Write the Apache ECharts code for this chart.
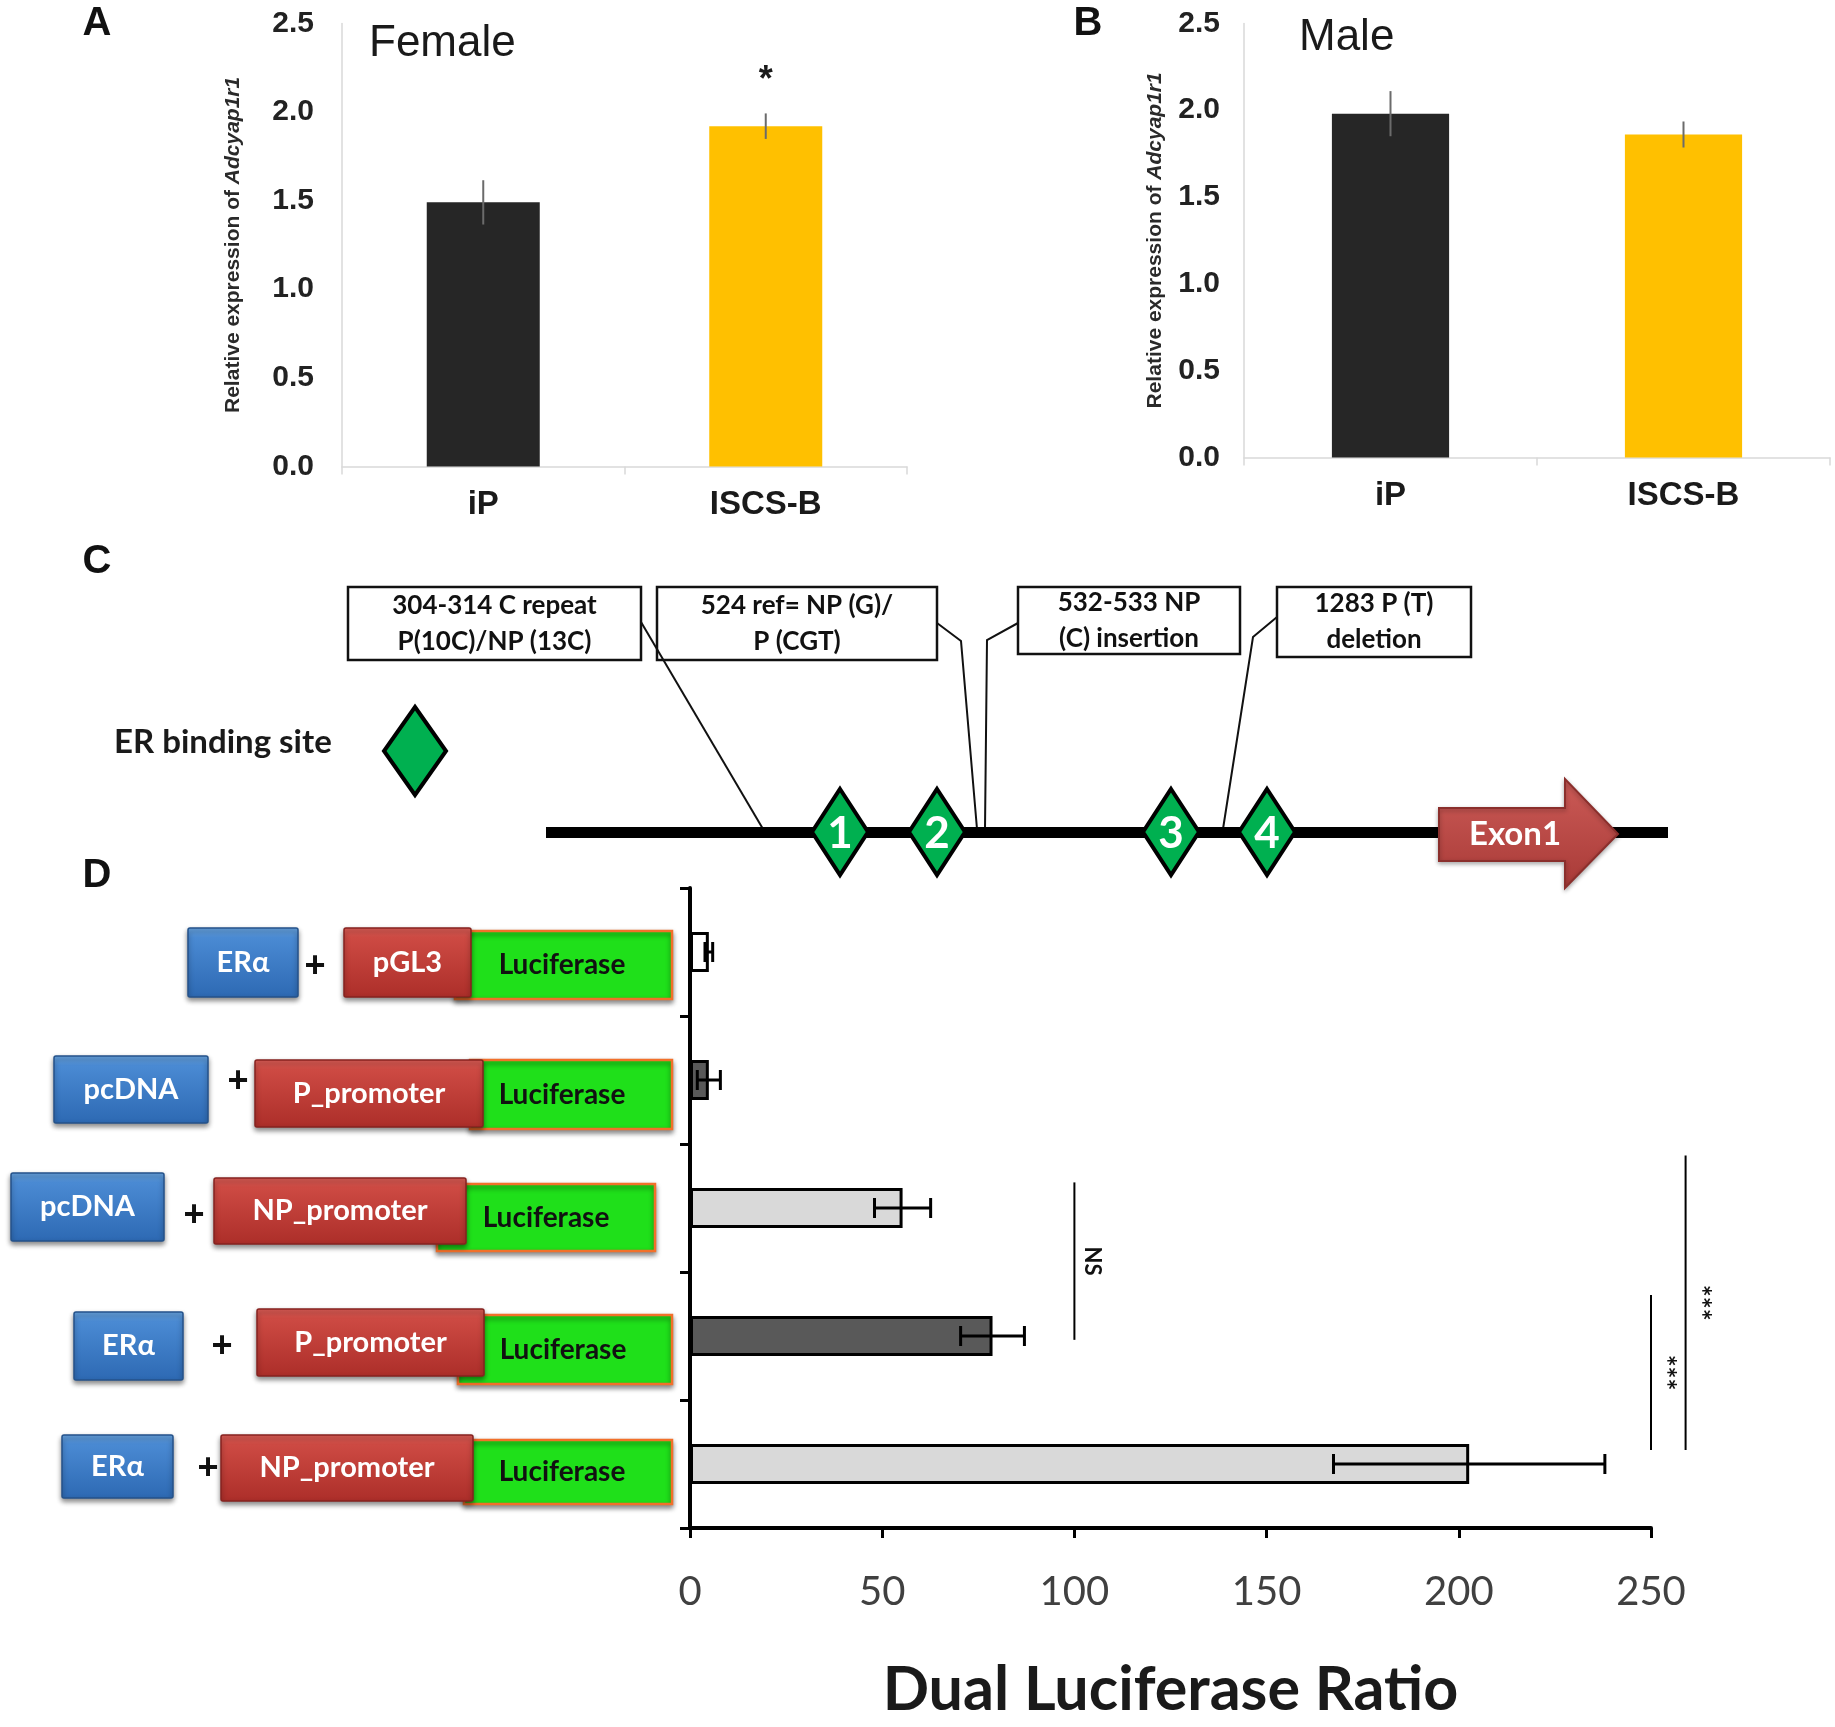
<!DOCTYPE html>
<html><head><meta charset="utf-8">
<script src="https://cdn.jsdelivr.net/npm/echarts@6/dist/echarts.min.js"></script>
<style>html,body{margin:0;padding:0;background:#fff}#c{width:1835px;height:1727px}</style>
</head><body><div id="c"></div>
<script>
// ---------- DATA ----------
const groupsAB = ['iP', 'ISCS-B'];
const femaleMean = [1.49, 1.92];
const femaleErr = [0.125, 0.072];
const femaleSig = ['', '*'];
const maleMean = [1.98, 1.86];
const maleErr = [0.13, 0.075];
const maleSig = ['', ''];
const abAxis = {min: 0, max: 2.5, interval: 0.5};

const constructs = ['ERα + pGL3', 'pcDNA + P_promoter', 'pcDNA + NP_promoter', 'ERα + P_promoter', 'ERα + NP_promoter'];
const ratioMean = [4.9, 4.9, 55.3, 78.7, 202.7];
const ratioErr = [1.0, 3.0, 7.3, 8.3, 35.3];
const ratioAxis = {min: 0, max: 250, interval: 50};
// significance brackets: x value, from/to in category-index units
const brackets = [
  {x: 100, from: 1.8, to: 3.03, label: 'NS'},
  {x: 250, from: 2.68, to: 3.89, label: '***'},
  {x: 259, from: 1.59, to: 3.89, label: '***'}
];
const rowParts = [['ERα', 'pGL3'], ['pcDNA', 'P_promoter'], ['pcDNA', 'NP_promoter'], ['ERα', 'P_promoter'], ['ERα', 'NP_promoter']];

// ---------- STYLES ----------
const abColors = ['#262626', '#ffc000'];
const dFills = ['#ffffff', '#595959', '#d9d9d9', '#595959', '#d9d9d9'];
const SANS = 'Liberation Sans';
const CAL = 'Lato';

const chart = echarts.init(document.getElementById('c'), null, {renderer: 'canvas'});

function vErr(sig) {
  return function (params, api) {
    const i = api.value(0), m = api.value(1), e = api.value(2);
    const top = api.coord([i, m + e]);
    const bot = api.coord([i, m - e]);
    const ch = [{type: 'line', shape: {x1: top[0], y1: top[1], x2: bot[0], y2: bot[1]}, style: {stroke: '#6b6b6b', lineWidth: 2}}];
    const s = sig[params.dataIndex];
    if (s) ch.push({type: 'text', x: top[0], y: top[1] - 32, style: {text: s, font: 'bold 36px ' + SANS, fill: '#1a1a1a', align: 'center', verticalAlign: 'middle', textAlign: 'center', textVerticalAlign: 'middle'}});
    return {type: 'group', children: ch};
  };
}

function abGrid(left, top, width, height) {
  return {left, top, width, height, containLabel: false, outerBoundsMode: 'none'};
}
function abX(gi, margin) {
  return {type: 'category', gridIndex: gi, data: groupsAB,
    axisLine: {lineStyle: {color: '#d9d9d9', width: 1.5}},
    axisTick: {show: true, length: 8, lineStyle: {color: '#d9d9d9', width: 1.5}},
    axisLabel: {fontFamily: SANS, fontWeight: 'bold', fontSize: 33, color: '#1a1a1a', margin: margin}};
}
function abY(gi, margin, gap) {
  return {type: 'value', gridIndex: gi, min: abAxis.min, max: abAxis.max, interval: abAxis.interval,
    splitLine: {show: false}, axisTick: {show: false},
    axisLine: {show: true, lineStyle: {color: '#d9d9d9', width: 1.5}},
    axisLabel: {fontFamily: SANS, fontWeight: 'bold', fontSize: 30, color: '#222', margin: margin, formatter: v => v.toFixed(1)},
    name: '{n|Relative expression of }{i|Adcyap1r1}', nameLocation: 'middle', nameRotate: 90, nameGap: gap,
    nameTextStyle: {rich: {n: {fontFamily: SANS, fontWeight: 'bold', fontSize: 21, color: '#2a2a2a'}, i: {fontFamily: SANS, fontWeight: 'bold', fontStyle: 'italic', fontSize: 21, color: '#2a2a2a'}}}};
}

// ---------- GRAPHICS (diagram panels) ----------
const G = [];
function txt(x, y, text, font, fill, align, extra) {
  G.push(Object.assign({type: 'text', x, y, z: 20, style: {text, font, fill: fill || '#111', align: align || 'center', verticalAlign: 'middle', textAlign: align || 'center', textVerticalAlign: 'middle'}}, extra || {}));
}
txt(97, 24, 'A', 'bold 40px ' + SANS, '#111');
txt(1088, 24, 'B', 'bold 40px ' + SANS, '#111');
txt(97, 562, 'C', 'bold 40px ' + SANS, '#111');
txt(97, 876, 'D', 'bold 40px ' + SANS, '#111');
txt(369, 44, 'Female', '44px ' + SANS, '#1a1a1a', 'left');
txt(1299, 38, 'Male', '44px ' + SANS, '#1a1a1a', 'left');

// Panel C
const calloutBoxes = [
  {x1: 348, x2: 641, y1: 587, y2: 660, t: '304-314 C repeat\nP(10C)/NP (13C)'},
  {x1: 657, x2: 937, y1: 587, y2: 660, t: '524 ref= NP (G)/\nP (CGT)'},
  {x1: 1018, x2: 1240, y1: 587, y2: 654, t: '532-533 NP\n(C) insertion'},
  {x1: 1277, x2: 1471, y1: 587, y2: 657, t: '1283 P (T)\ndeletion'}
];
calloutBoxes.forEach(b => {
  G.push({type: 'rect', z: 10, shape: {x: b.x1, y: b.y1, width: b.x2 - b.x1, height: b.y2 - b.y1}, style: {fill: '#fff', stroke: '#111', lineWidth: 2.5}});
  G.push({type: 'text', z: 11, x: (b.x1 + b.x2) / 2, y: (b.y1 + b.y2) / 2, style: {text: b.t, font: 'bold 26px ' + CAL, fill: '#111', lineHeight: 36, align: 'center', verticalAlign: 'middle', textAlign: 'center', textVerticalAlign: 'middle'}});
});
const callLines = [
  [[641, 622], [763, 829]],
  [[937, 623], [961, 641], [977, 829]],
  [[1018, 623], [987, 640], [985, 829]],
  [[1277, 617], [1253, 637], [1223, 829]]
];
callLines.forEach(p => G.push({type: 'polyline', z: 12, shape: {points: p}, style: {stroke: '#111', lineWidth: 2, fill: null}}));
G.push({type: 'rect', z: 13, shape: {x: 546, y: 827, width: 1122, height: 11}, style: {fill: '#000'}});
function diamond(cx, cy, w, h, label) {
  G.push({type: 'polygon', z: 14, shape: {points: [[cx, cy - h / 2], [cx + w / 2, cy], [cx, cy + h / 2], [cx - w / 2, cy]]}, style: {fill: '#00b050', stroke: '#000', lineWidth: 4}});
  if (label) G.push({type: 'text', z: 15, x: cx, y: cy + 2, style: {text: label, font: 'bold 44px ' + CAL, fill: '#fff', align: 'center', verticalAlign: 'middle', textAlign: 'center', textVerticalAlign: 'middle'}});
}
diamond(415, 751, 62, 88, '');
[[840, '1'], [937, '2'], [1171, '3'], [1267, '4']].forEach(d => diamond(d[0], 832, 56, 86, d[1]));
txt(114, 742, 'ER binding site', 'bold 33px ' + CAL, '#1a1a1a', 'left');
G.push({type: 'polygon', z: 16, shape: {points: [[1439, 808], [1565, 808], [1565, 779], [1618, 834], [1565, 888], [1565, 861], [1439, 861]]},
  style: {fill: {type: 'linear', x: 0, y: 0, x2: 0, y2: 1, colorStops: [{offset: 0, color: '#cc5b57'}, {offset: 1, color: '#a83a37'}]}, stroke: '#8b2f2c', lineWidth: 2, shadowBlur: 4, shadowOffsetY: 2, shadowColor: 'rgba(0,0,0,0.3)'}});
G.push({type: 'text', z: 17, x: 1515, y: 834, style: {text: 'Exon1', font: 'bold 33px ' + CAL, fill: '#fff', align: 'center', verticalAlign: 'middle', textAlign: 'center', textVerticalAlign: 'middle'}});

// Panel D constructs
const rowLayout = [
  {blue: [188, 298, 928, 997], plus: [315, 967], red: [344, 471, 928, 997], green: [455, 672, 931, 999], lucX: 562},
  {blue: [54, 208, 1056, 1123], plus: [238, 1082], red: [255, 483, 1060, 1127], green: [470, 672, 1060, 1129], lucX: 562},
  {blue: [11, 164, 1173, 1241], plus: [194, 1216], red: [214, 466, 1178, 1244], green: [437, 655, 1184, 1251], lucX: 546},
  {blue: [74, 183, 1312, 1380], plus: [222, 1347], red: [257, 484, 1309, 1376], green: [458, 672, 1315, 1384], lucX: 563},
  {blue: [62, 173, 1435, 1498], plus: [208, 1469], red: [221, 473, 1435, 1501], green: [464, 672, 1440, 1504], lucX: 562}
];
const blueFill = {type: 'linear', x: 0, y: 0, x2: 0, y2: 1, colorStops: [{offset: 0, color: '#6aa6e2'}, {offset: 0.15, color: '#4a8ad3'}, {offset: 1, color: '#2d69b3'}]};
const redFill = {type: 'linear', x: 0, y: 0, x2: 0, y2: 1, colorStops: [{offset: 0, color: '#de5f58'}, {offset: 0.15, color: '#cd4a43'}, {offset: 1, color: '#ac2e29'}]};
rowLayout.forEach((r, i) => {
  const g = r.green, b = r.blue, rd = r.red;
  G.push({type: 'rect', z: 5, shape: {x: g[0], y: g[2], width: g[1] - g[0], height: g[3] - g[2]}, style: {fill: '#1fe01a', stroke: '#f2702a', lineWidth: 2.5, shadowBlur: 5, shadowOffsetY: 3, shadowColor: 'rgba(0,0,0,0.45)'}});
  G.push({type: 'rect', z: 6, shape: {x: b[0], y: b[2], width: b[1] - b[0], height: b[3] - b[2], r: 2}, style: {fill: blueFill, stroke: '#24528a', lineWidth: 1.5, shadowBlur: 5, shadowOffsetY: 3, shadowColor: 'rgba(0,0,0,0.45)'}});
  G.push({type: 'rect', z: 6, shape: {x: rd[0], y: rd[2], width: rd[1] - rd[0], height: rd[3] - rd[2], r: 2}, style: {fill: redFill, stroke: '#86221f', lineWidth: 1.5, shadowBlur: 5, shadowOffsetY: 3, shadowColor: 'rgba(0,0,0,0.45)'}});
  txt((b[0] + b[1]) / 2, (b[2] + b[3]) / 2, rowParts[i][0], 'bold 29px ' + CAL, '#fff');
  txt((rd[0] + rd[1]) / 2, (rd[2] + rd[3]) / 2, rowParts[i][1], 'bold 29px ' + CAL, '#fff');
  txt(r.lucX, (g[2] + g[3]) / 2, 'Luciferase', 'bold 28px ' + CAL, '#111');
  txt(r.plus[0], r.plus[1], '+', 'bold 36px ' + SANS, '#111');
});

const option = {
  animation: false,
  backgroundColor: '#fff',
  grid: [
    abGrid(342, 23.4, 565, 443),
    abGrid(1244, 23.4, 586, 434),
    {left: 690, top: 888, width: 961, height: 640, containLabel: false, outerBoundsMode: 'none'}
  ],
  xAxis: [
    abX(0, 22),
    abX(1, 22),
    {type: 'value', gridIndex: 2, min: ratioAxis.min, max: ratioAxis.max, interval: ratioAxis.interval,
      splitLine: {show: false},
      axisLine: {show: true, lineStyle: {color: '#000', width: 4}},
      axisTick: {show: true, length: 10, lineStyle: {color: '#000', width: 3}},
      axisLabel: {fontFamily: CAL, fontSize: 40, color: '#404040', margin: 44},
      name: 'Dual Luciferase Ratio', nameLocation: 'middle', nameGap: 132,
      nameTextStyle: {fontFamily: CAL, fontWeight: 'bold', fontSize: 61, color: '#1a1a1a'}}
  ],
  yAxis: [
    abY(0, 28, 98),
    abY(1, 24, 78),
    {type: 'category', gridIndex: 2, data: constructs, inverse: true,
      axisLine: {show: true, lineStyle: {color: '#000', width: 4}},
      axisTick: {show: true, length: 10, lineStyle: {color: '#000', width: 3}},
      axisLabel: {show: false}}
  ],
  series: [
    {type: 'bar', xAxisIndex: 0, yAxisIndex: 0, barWidth: '40%',
      data: femaleMean.map((v, i) => ({value: v, itemStyle: {color: abColors[i]}}))},
    {type: 'custom', xAxisIndex: 0, yAxisIndex: 0, z: 5, renderItem: vErr(femaleSig),
      data: femaleMean.map((v, i) => [i, v, femaleErr[i]])},
    {type: 'bar', xAxisIndex: 1, yAxisIndex: 1, barWidth: '40%',
      data: maleMean.map((v, i) => ({value: v, itemStyle: {color: abColors[i]}}))},
    {type: 'custom', xAxisIndex: 1, yAxisIndex: 1, z: 5, renderItem: vErr(maleSig),
      data: maleMean.map((v, i) => [i, v, maleErr[i]])},
    {type: 'bar', xAxisIndex: 2, yAxisIndex: 2, barWidth: 40,
      data: ratioMean.map((v, i) => ({value: v, itemStyle: {color: dFills[i], borderColor: '#000', borderWidth: 3}}))},
    {type: 'custom', xAxisIndex: 2, yAxisIndex: 2, z: 5,
      renderItem: function (params, api) {
        const m = api.value(0), i = api.value(1), e = api.value(2);
        const a = api.coord([m - e, i]), b = api.coord([m + e, i]);
        const st = {stroke: '#000', lineWidth: 3};
        return {type: 'group', children: [
          {type: 'line', shape: {x1: a[0], y1: a[1], x2: b[0], y2: b[1]}, style: st},
          {type: 'line', shape: {x1: a[0], y1: a[1] - 10, x2: a[0], y2: a[1] + 10}, style: st},
          {type: 'line', shape: {x1: b[0], y1: b[1] - 10, x2: b[0], y2: b[1] + 10}, style: st}
        ]};
      },
      data: ratioMean.map((v, i) => [v, i, ratioErr[i]])},
    {type: 'custom', xAxisIndex: 2, yAxisIndex: 2, z: 5,
      renderItem: function (params, api) {
        const x = api.value(0), f = api.value(2), t = api.value(3);
        const p0 = api.coord([x, 0]);
        const band = api.size([0, 1])[1];
        const y1 = p0[1] + f * band, y2 = p0[1] + t * band;
        const lab = brackets[params.dataIndex].label;
        const isStar = lab.indexOf('*') >= 0;
        return {type: 'group', children: [
          {type: 'line', shape: {x1: p0[0], y1: y1, x2: p0[0], y2: y2}, style: {stroke: '#000', lineWidth: 2}},
          {type: 'text', x: p0[0] + (isStar ? 14 : 18), y: (y1 + y2) / 2, rotation: -Math.PI / 2,
            style: {text: lab, font: (isStar ? 'bold 28px ' : 'bold 22px ') + CAL, fill: '#111', align: 'center', verticalAlign: 'middle', textAlign: 'center', textVerticalAlign: 'middle'}}
        ]};
      },
      data: brackets.map(b => [b.x, 0, b.from, b.to])}
  ],
  graphic: G
};
chart.setOption(option);
</script>
</body></html>
